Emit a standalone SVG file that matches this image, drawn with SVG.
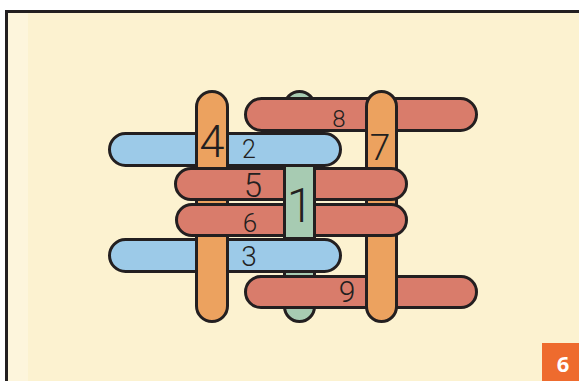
<svg xmlns="http://www.w3.org/2000/svg" width="579" height="381" viewBox="0 0 579 381">
<style>
.s{stroke:#231f20;stroke-width:3}
.o{fill:#eca25f}
.b{fill:#9ccae8}
.r{fill:#d97c6b}
.g{fill:#a7cbb2}
.n{font-family:Roboto,"Liberation Sans",sans-serif;font-weight:300;fill:#231f20;text-anchor:middle}
</style>
<rect x="0" y="0" width="579" height="381" fill="#ffffff"/>
<rect x="6.5" y="11.5" width="600" height="400" fill="#fcf2d0" stroke="#231f20" stroke-width="3"/>
<rect x="8" y="13" width="20" height="368" fill="#fdf5dc"/>
<g id="stick1"><rect class="s g" x="284.5" y="91.5" width="30" height="230" rx="15"/></g>
<g id="stick8"><rect class="s r" x="245.5" y="98.5" width="231" height="32" rx="16"/><text class="n" x="339" y="127" font-size="24">8</text></g>
<g id="stick9"><rect class="s r" x="245.5" y="276.5" width="231" height="31" rx="15.5"/><text class="n" x="347" y="302" font-size="30">9</text></g>
<g id="stick2"><rect class="s b" x="109.5" y="133.5" width="231" height="32" rx="16"/><text class="n" x="249" y="158" font-size="25">2</text></g>
<g id="stick3"><rect class="s b" x="109.5" y="239.5" width="231" height="32" rx="16"/><text class="n" x="249" y="265.5" font-size="28">3</text></g>
<g id="stick4"><rect class="s o" x="196.5" y="91.5" width="31" height="230" rx="15.5"/><text class="n" x="212" y="157" font-size="45">4</text></g>
<g id="stick7"><rect class="s o" x="366.5" y="91.5" width="30" height="230" rx="15"/><text class="n" x="380" y="160" font-size="37">7</text></g>
<g id="stick5"><rect class="s r" x="175.5" y="168.5" width="231" height="31" rx="15.5"/><text class="n" x="253" y="197" font-size="33">5</text></g>
<g id="stick6"><rect class="s r" x="176.5" y="204.5" width="230" height="31" rx="15.5"/><text class="n" x="250" y="231.5" font-size="26">6</text></g>
<g id="stick1-front"><rect class="s g" x="284.5" y="165.5" width="30" height="73"/><text class="n" x="300" y="222" font-size="48">1</text></g>
<g id="badge"><rect x="542" y="343" width="37" height="38" fill="#ee6b2e"/><text x="563" y="372" font-family="'Open Sans','Liberation Sans',sans-serif" font-weight="700" font-size="22" fill="#ffffff" text-anchor="middle">6</text></g>
</svg>
